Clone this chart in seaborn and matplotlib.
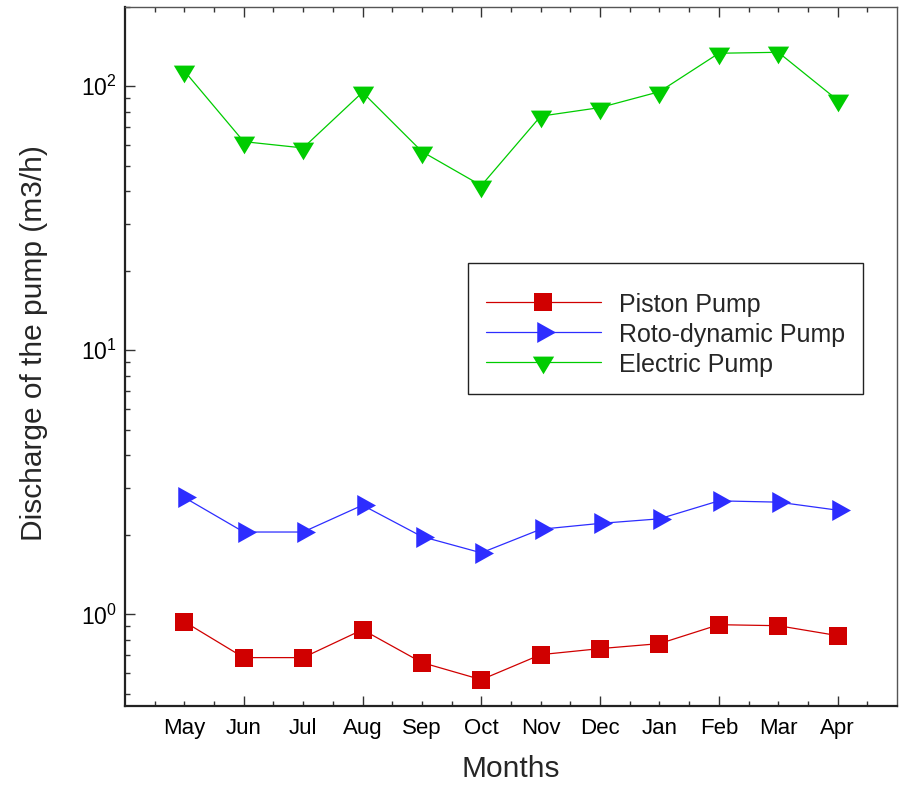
import numpy as np
import pandas as pd
import matplotlib
matplotlib.use("Agg")
import matplotlib.pyplot as plt
from matplotlib.ticker import LogLocator, NullFormatter
import seaborn as sns

# Datos (caudal mensual, m3/h)
months = ["May", "Jun", "Jul", "Aug", "Sep", "Oct", "Nov", "Dec", "Jan", "Feb", "Mar", "Apr"]
piston = [0.938, 0.686, 0.686, 0.875, 0.657, 0.566, 0.704, 0.742, 0.775, 0.914, 0.906, 0.831]
roto = [2.77, 2.05, 2.05, 2.59, 1.97, 1.71, 2.10, 2.21, 2.30, 2.69, 2.66, 2.48]
electric = [114.0, 61.6, 58.3, 94.7, 56.5, 42.0, 76.9, 82.9, 95.2, 133.1, 134.2, 88.4]

series_names = ["Piston Pump", "Roto-dynamic Pump", "Electric Pump"]


def main():
    sns.set_style("white")
    plt.rcParams["font.family"] = ["Liberation Sans", "DejaVu Sans"]

    df = pd.DataFrame({"x": np.arange(len(months)),
                       "Piston Pump": piston,
                       "Roto-dynamic Pump": roto,
                       "Electric Pump": electric})

    # marcadores triangulares centrados en el baricentro, como en el original
    tri_down = [(-10.65, 5.9), (10.65, 5.9), (0.0, -11.8)]
    tri_right = [(-6.27, 10.5), (-6.27, -10.5), (12.53, 0.0)]
    styles = {
        "Piston Pump": dict(color="#D00000", marker="s", markersize=13.5),
        "Roto-dynamic Pump": dict(color="#2D2DFF", marker=tri_right, markersize=18.0),
        "Electric Pump": dict(color="#00CC00", marker=tri_down, markersize=17.0),
    }

    fig, ax = plt.subplots(figsize=(9.01, 7.86), dpi=100)
    fig.subplots_adjust(left=0.1387, right=0.9956, bottom=0.1018, top=0.9917)

    for name in series_names:
        st = styles[name]
        sns.lineplot(data=df, x="x", y=name, ax=ax, label=name, sort=False,
                     color=st["color"], linewidth=0.9, marker=st["marker"],
                     markersize=st["markersize"], markeredgewidth=0,
                     markerfacecolor=st["color"])

    ax.set_yscale("log")
    ax.set_ylim(0.45, 200)
    ax.set_xlim(-1, 12)

    # Ejes
    ax.set_xticks(range(len(months)))
    ax.set_xticklabels(months)
    ax.set_xticks(np.arange(-0.5, 12, 1.0), minor=True)
    ax.yaxis.set_major_locator(LogLocator(base=10))
    ax.yaxis.set_minor_locator(LogLocator(base=10, subs=np.arange(2, 10)))
    ax.yaxis.set_minor_formatter(NullFormatter())

    ax.tick_params(axis="x", which="both", direction="in", top=True, bottom=True,
                   colors="#333333", labelcolor="black", labelsize=16, pad=9)
    ax.tick_params(axis="x", which="major", length=7.2, width=1)
    ax.tick_params(axis="x", which="minor", length=3.6, width=1)
    ax.tick_params(axis="y", which="both", direction="in", left=True, right=False,
                   colors="#333333", labelcolor="black", labelsize=16.5, pad=6)
    ax.tick_params(axis="y", which="major", length=7.2, width=1)
    ax.tick_params(axis="y", which="minor", length=3.6, width=1)

    # marcas largas solo cada dos meses
    for i, t in enumerate(ax.xaxis.get_major_ticks()):
        if i % 2 == 0:
            t.tick1line.set_markersize(3.6)
            t.tick2line.set_markersize(3.6)

    for side in ["left", "bottom"]:
        ax.spines[side].set_linewidth(1.6)
        ax.spines[side].set_color("#222222")
    for side in ["top", "right"]:
        ax.spines[side].set_linewidth(1.0)
        ax.spines[side].set_color("#555555")

    ax.set_xlabel("Months", fontsize=21.5, labelpad=11)
    ax.set_ylabel("Discharge of the pump (m3/h)", fontsize=21.5)
    ax.yaxis.set_label_coords(-0.100, 0.519)

    leg = ax.legend(loc="upper left", bbox_to_anchor=(468 / 901, 1 - 263 / 786),
                    bbox_transform=fig.transFigure, fontsize=18, frameon=True,
                    fancybox=False, shadow=False, handlelength=4.6, handletextpad=0.75,
                    handleheight=1.0, labelspacing=0.2, borderpad=0.7, borderaxespad=0,
                    title=" ", title_fontsize=5)
    leg.get_frame().set_edgecolor("#222222")
    leg.get_frame().set_linewidth(1.0)
    leg.get_frame().set_alpha(1)

    fig.savefig("out.png", dpi=100)


if __name__ == "__main__":
    main()
